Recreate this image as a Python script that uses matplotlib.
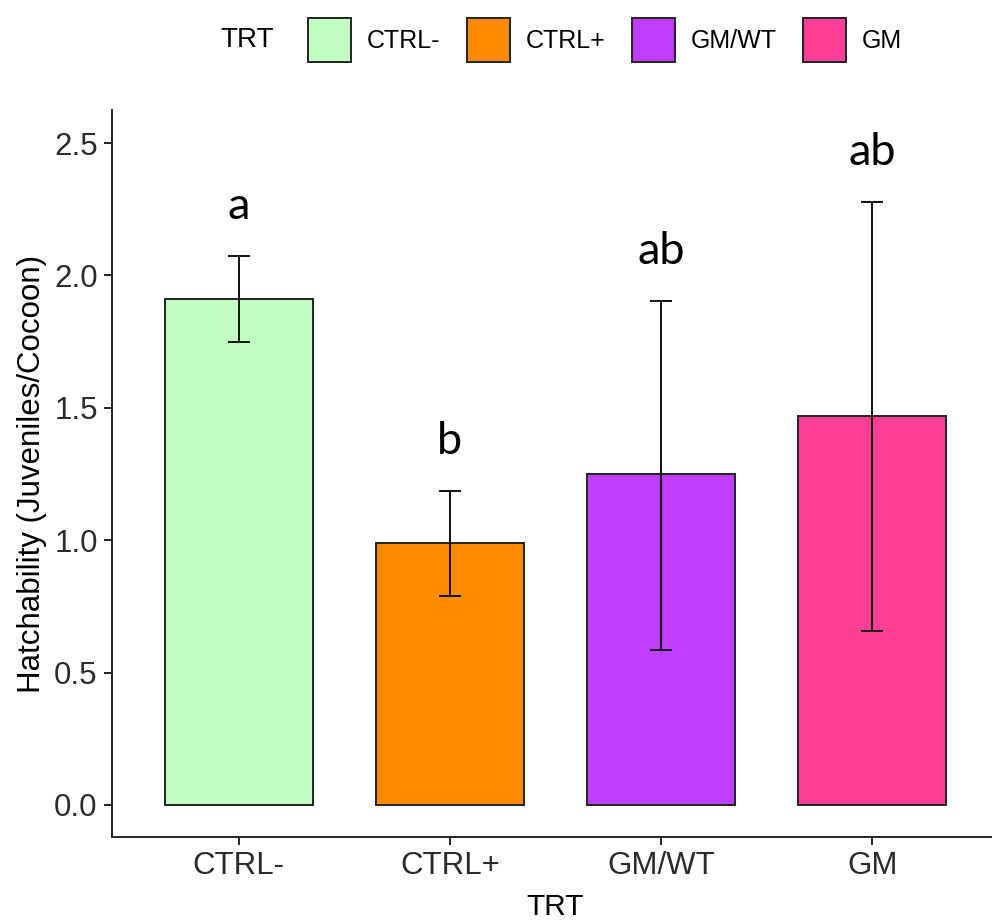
import matplotlib.pyplot as plt
from matplotlib.patches import Patch
import numpy as np

# data
treatments = ["CTRL-", "CTRL+", "GM/WT", "GM"]
hatch_mean = [1.91, 0.99, 1.25, 1.47]
err_low = [1.75, 0.79, 0.585, 0.657]
err_high = [2.075, 1.186, 1.903, 2.277]
letters = ["a", "b", "ab", "ab"]
bar_colors = ["#C1FFC1", "#FF8C00", "#BF3EFF", "#FF3E96"]

plt.rcParams["font.family"] = ["Liberation Sans", "DejaVu Sans"]

fig = plt.figure(figsize=(9.92, 9.24), dpi=100)
ax = fig.add_axes([0.1129, 0.0942, 0.894, 0.7868])

x = np.arange(1, len(treatments) + 1)
mean = np.array(hatch_mean)
yerr = [mean - np.array(err_low), np.array(err_high) - mean]

ax.bar(x, mean, width=0.7, color=bar_colors, edgecolor="#222222", linewidth=1.4, zorder=2)
ax.errorbar(x, mean, yerr=yerr, fmt="none", ecolor="#111111", elinewidth=1.4,
            capsize=8, capthick=1.4, zorder=3)

# significance letters
for xi, top, lab in zip(x, err_high, letters):
    ax.text(xi, top + 0.14, lab, family=["Lato", "DejaVu Sans"], fontsize=32.5,
            ha="center", va="baseline", color="black")

ax.set_xlim(0.4, 4.6)
ax.set_ylim(-0.121, 2.625)
ax.set_xticks(x)
ax.set_xticklabels(treatments)
ax.set_yticks([0.0, 0.5, 1.0, 1.5, 2.0, 2.5])
ax.set_yticklabels(["0.0", "0.5", "1.0", "1.5", "2.0", "2.5"])

for side in ["top", "right"]:
    ax.spines[side].set_visible(False)
for side in ["left", "bottom"]:
    ax.spines[side].set_linewidth(1.4)
    ax.spines[side].set_color("#222222")

ax.tick_params(axis="both", length=5.8, width=1.4, color="#222222",
               labelsize=22.5, labelcolor="#2b2b2b", pad=4.5)

ax.set_xlabel("TRT", fontsize=21.5)
ax.set_ylabel("Hatchability (Juveniles/Cocoon)", fontsize=22.5)
ax.xaxis.set_label_coords(0.5, -0.077)
ax.yaxis.set_label_coords(-0.073, 0.5)

# legend on top, title to the left
handles = [Patch(facecolor=c, edgecolor="#222222", linewidth=1.4) for c in bar_colors]
fig.text(220 / 992, 1 - 40 / 924, "TRT", fontsize=20, ha="left", va="center")
fig.legend(handles, treatments, loc="center left", bbox_to_anchor=(308 / 992, 1 - 40 / 924),
           ncol=4, frameon=False, fontsize=18, handlelength=1.72, handleheight=2.39,
           handletextpad=0.64, columnspacing=1.05, borderpad=0, borderaxespad=0)

fig.savefig("out.png", dpi=100)
